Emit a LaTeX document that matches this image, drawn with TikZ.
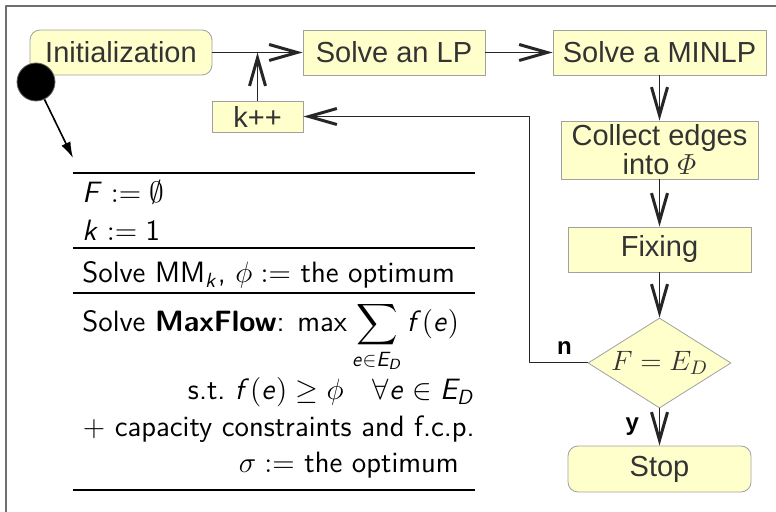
\documentclass[tikz,border=0pt]{standalone}
\usepackage{fix-cm}
\usepackage{amsmath}
\usepackage{fontspec}
\newfontfamily\arialfont{Liberation Sans}
\DeclareMathAlphabet{\mathsfit}{OT1}{cmss}{m}{sl}
\newcommand{\vsf}[1]{\mathsfit{#1}}
\usetikzlibrary{arrows.meta,shapes.geometric}
\definecolor{boxfill}{RGB}{255,255,204}
\definecolor{boxline}{RGB}{160,160,160}
\definecolor{boxtext}{RGB}{51,51,51}
\definecolor{framecol}{RGB}{110,110,110}
\tikzset{
  box/.style={draw=boxline, fill=boxfill, text=boxtext, inner sep=0pt, minimum height=22.5pt,
    font=\arialfont\fontsize{14.5}{12.5}\selectfont},
  terminal/.style={box, rounded corners=5pt},
  decision/.style={box, diamond, aspect=1.59, minimum width=71.5pt, minimum height=45pt, font=\fontsize{14}{16}\selectfont},
  flow/.style={-{Straight Barb[length=14pt, width=8pt, line width=1.5pt]}, line width=0.5pt, black!85},
  lbl/.style={inner sep=0pt, text=black, font=\arialfont\bfseries\fontsize{12}{14}\selectfont},
  rule/.style={line width=1pt},
  row/.style={inner sep=0pt, font=\sffamily\fontsize{14.7}{18}\selectfont},
}

\begin{document}
\begin{tikzpicture}[x=0.5pt, y=-0.5pt, line join=round]
	\useasboundingbox (0,0) rectangle (776,512);
	\draw[framecol, line width=1pt] (6,512) -- (6,6) -- (776,6);

	\node[terminal, minimum width=91pt] (init) at (121,52.5) {Initialization};
	\node[box, minimum width=91pt] (lp) at (394,52.5) {Solve an LP};
	\node[box, minimum width=106.5pt] (minlp) at (659.5,52.5) {Solve a MINLP};
	\node[box, minimum width=45.5pt, minimum height=15.5pt] (kpp) at (257.5,116.5) {k++};
	\node[box, minimum width=98.5pt, minimum height=29pt, align=center] (collect) at (659.5,150) {Collect edges\\into $\varPhi$};
	\node[box, minimum width=91.5pt] (fixing) at (659.5,249.5) {Fixing};
	\node[decision] (test) at (659.5,363) {$F = E_D$};
	\node[terminal, minimum width=91.5pt, minimum height=23pt] (stop) at (659.5,469) {Stop};

	\coordinate (join) at (kpp.north |- init.east);
	\draw[flow] (init) -- (lp);
	\draw[flow] (lp) -- (minlp);
	\draw[flow] (kpp) -- (join);
	\draw[flow] (minlp) -- (collect);
	\draw[flow] (collect) -- (fixing);
	\draw[flow] (fixing) -- (test);
	\draw[flow] (test) -- node[lbl, left=10pt] {y} (stop);
	\draw[flow] (test.west) -- node[lbl, above=4pt, pos=0.4] {n} ++(-58,0) |- (kpp.east);

	\node[circle, fill=black, draw=black!60, inner sep=0pt, minimum size=19pt] (start) at (36,82) {};
	\coordinate (tbltop) at (73,158);
	\draw[-{Latex[length=8pt, width=5pt]}, line width=0.8pt] (start) -- (tbltop);

	\foreach \y in {173,248,293,490} \draw[rule] (73,\y) -- (475,\y);
	\node[row, anchor=base west] (r1) at (82,203) {$\vsf{F} := \emptyset$};
	\node[row, anchor=base west] (r2) at (82,241) {$\vsf{k} := \mathsf{1}$};
	\node[row, anchor=base west] (r3) at (82,283) {Solve MM$_{\vsf{k}}$, $\phi :=$ the optimum};
	\node[row, anchor=base west] (r4) at (82,332) {Solve \textbf{MaxFlow}: $\mathsf{max}\displaystyle\sum_{\vsf{e}\in \vsf{E}_{\vsf{D}}} \vsf{f}(\vsf{e})$};
	\node[row, anchor=base east] (r5) at (475,400) {s.t.\ $\vsf{f}(\vsf{e}) \geq \phi \quad \forall \vsf{e} \in \vsf{E}_{\vsf{D}}$};
	\node[row, anchor=base east] (r6) at (475,437) {$+$ capacity constraints and f.c.p.};
	\node[row, anchor=base east] (r7) at (459,473) {$\sigma :=$ the optimum};
\end{tikzpicture}
\end{document}
